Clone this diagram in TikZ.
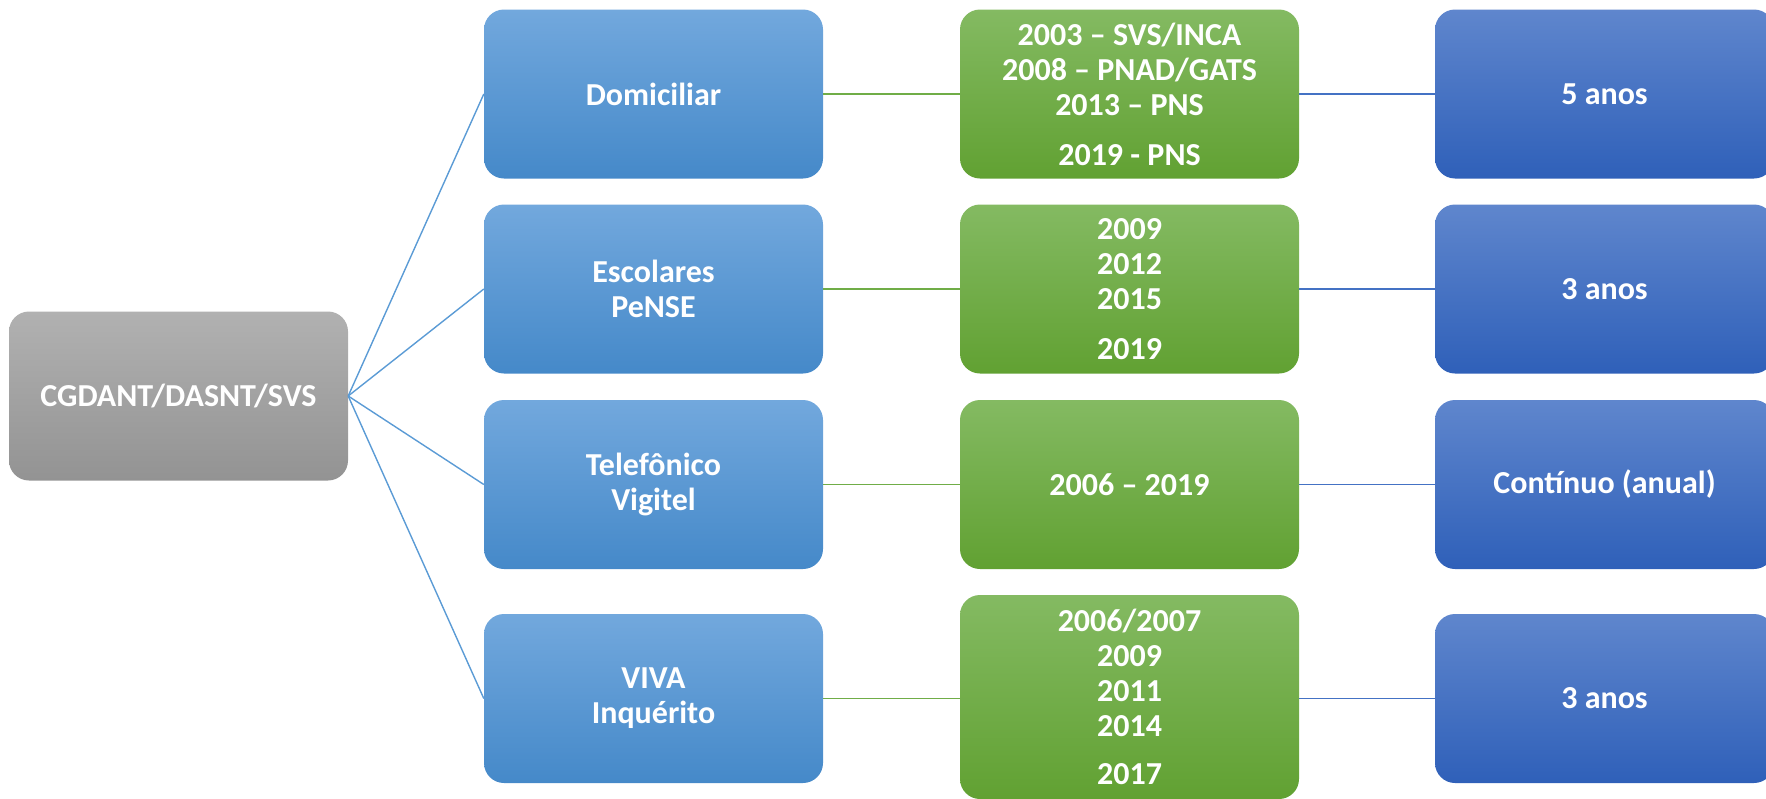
\documentclass[tikz,border=0pt]{standalone}
\usepackage{fontspec}
\setmainfont{Carlito}
\definecolor{grayT}{HTML}{B1B1B1}
\definecolor{grayB}{HTML}{939393}
\definecolor{lblueT}{HTML}{72A8DD}
\definecolor{lblueB}{HTML}{4589C9}
\definecolor{greenT}{HTML}{84BA62}
\definecolor{greenB}{HTML}{61A132}
\definecolor{dblueT}{HTML}{5F86CD}
\definecolor{dblueB}{HTML}{2F60B9}
\definecolor{lineblue}{HTML}{5B9BD5}
\definecolor{linegreen}{HTML}{70AD47}
\definecolor{linedblue}{HTML}{4472C4}
\begin{document}
\begin{tikzpicture}[x=1pt,y=-1pt,
  box/.style={rounded corners=20pt, minimum width=339pt, minimum height=169pt,
    inner sep=0pt, text=white, font=\fontsize{32}{35}\selectfont\bfseries,
    align=center},
  graybox/.style={box, top color=grayT, bottom color=grayB},
  lbluebox/.style={box, top color=lblueT, bottom color=lblueB},
  greenbox/.style={box, top color=greenT, bottom color=greenB},
  dbluebox/.style={box, top color=dblueT, bottom color=dblueB},
  conn/.style={line width=1.4pt}
]
\useasboundingbox (0,0) rectangle (1766,798);
\clip (0,0) rectangle (1766,798);

\node[graybox] (root) at (178.5,396) {CGDANT/DASNT/SVS};

\node[lbluebox] (b1) at (653.5,94) {Domiciliar};
\node[lbluebox] (b2) at (653.5,289) {Escolares\\PeNSE};
\node[lbluebox] (b3) at (653.5,484.5) {Telefônico\\Vigitel};
\node[lbluebox] (b4) at (653.5,698.5) {VIVA\\Inquérito};

\node[greenbox] (g1) at (1129.5,94) {2003 – SVS/INCA\\2008 – PNAD/GATS\\2013 – PNS\\[15pt]2019 - PNS};
\node[greenbox] (g2) at (1129.5,289) {2009\\2012\\2015\\[15pt]2019};
\node[greenbox] (g3) at (1129.5,484.5) {2006 – 2019};
\node[greenbox, minimum height=204pt] (g4) at (1129.5,697) {2006/2007\\2009\\2011\\2014\\[13pt]2017};

\node[dbluebox] (r1) at (1604.5,94) {5 anos};
\node[dbluebox] (r2) at (1604.5,289) {3 anos};
\node[dbluebox] (r3) at (1604.5,484.5) {Contínuo (anual)};
\node[dbluebox] (r4) at (1604.5,698.5) {3 anos};

\foreach \i in {1,2,3,4}{
  \draw[conn, lineblue] (root.east) -- (b\i.west);
  \draw[conn, linegreen] (b\i.east) -- (b\i.east -| g\i.west);
  \draw[conn, linedblue] (g\i.east |- r\i.west) -- (r\i.west);
}
\end{tikzpicture}
\end{document}
